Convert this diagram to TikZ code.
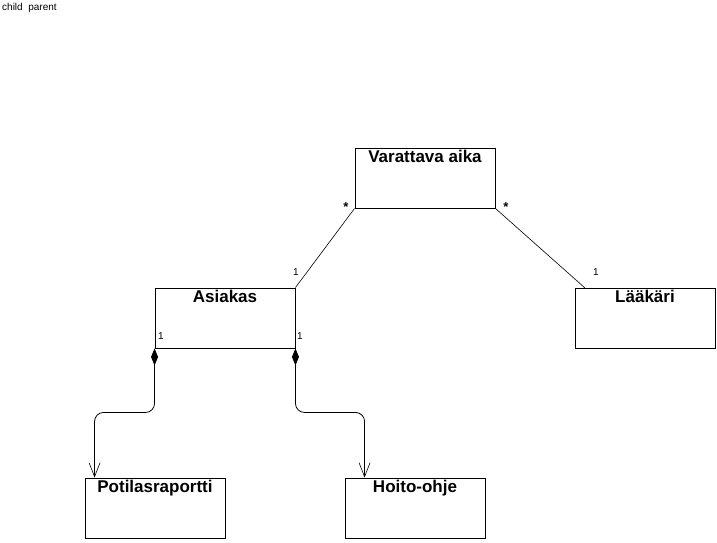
\documentclass[tikz,border=0pt]{standalone}
\usepackage{fontspec}
\setmainfont{Liberation Sans}
\usetikzlibrary{arrows.meta}

\begin{document}
\begin{tikzpicture}[x=1pt,y=-1pt,
  luokka/.style={draw,line width=0.9pt,minimum width=140pt,minimum height=60pt,inner sep=0pt,
    label={[anchor=north,font=\fontsize{17}{19}\selectfont\bfseries,inner sep=2pt]north:#1}},
  monik/.style={font=\fontsize{10}{11}\selectfont,inner sep=0pt},
  assoc/.style={line width=0.6pt},
  kooste/.style={line width=0.8pt,rounded corners=9pt,
    {Diamond[length=17pt,width=7pt]}-{Straight Barb[length=14pt,width=11pt,line width=0.6pt]}}]
\useasboundingbox (0,0) rectangle (717,543);
\node[monik,anchor=north west] (otsikko) at (2,3) {child\ \ parent};
% luokat
\node[luokka={Varattava aika}] (va) at (425,178) {};
\node[luokka={Asiakas}] (as) at (225,318) {};
\node[luokka={Lääkäri}] (la) at (645,318) {};
\node[luokka={Potilasraportti}] (pr) at (155,508) {};
\node[luokka={Hoito-ohje}] (ho) at (415,508) {};
% assosiaatiot
\coordinate (lapaa) at (585,288);
\draw[assoc] (va.south west) -- (as.north east);
\draw[assoc] (va.south east) -- (lapaa);
\node[monik,font=\fontsize{13}{14}\selectfont\bfseries] (t1) at (346,207) {*};
\node[monik,font=\fontsize{13}{14}\selectfont\bfseries] (t2) at (506,207) {*};
\node[monik] (y1) at (296,272) {1};
\node[monik] (y2) at (596,272) {1};
\node[monik] (y3) at (161,336) {1};
\node[monik] (y4) at (300,336) {1};
% koosteet
\draw[kooste] (as.south west) -- ++(0,64) -| ([xshift=10pt]pr.north west);
\draw[kooste] (as.south east) -- ++(0,64) -| ([xshift=20pt]ho.north west);
\end{tikzpicture}
\end{document}
